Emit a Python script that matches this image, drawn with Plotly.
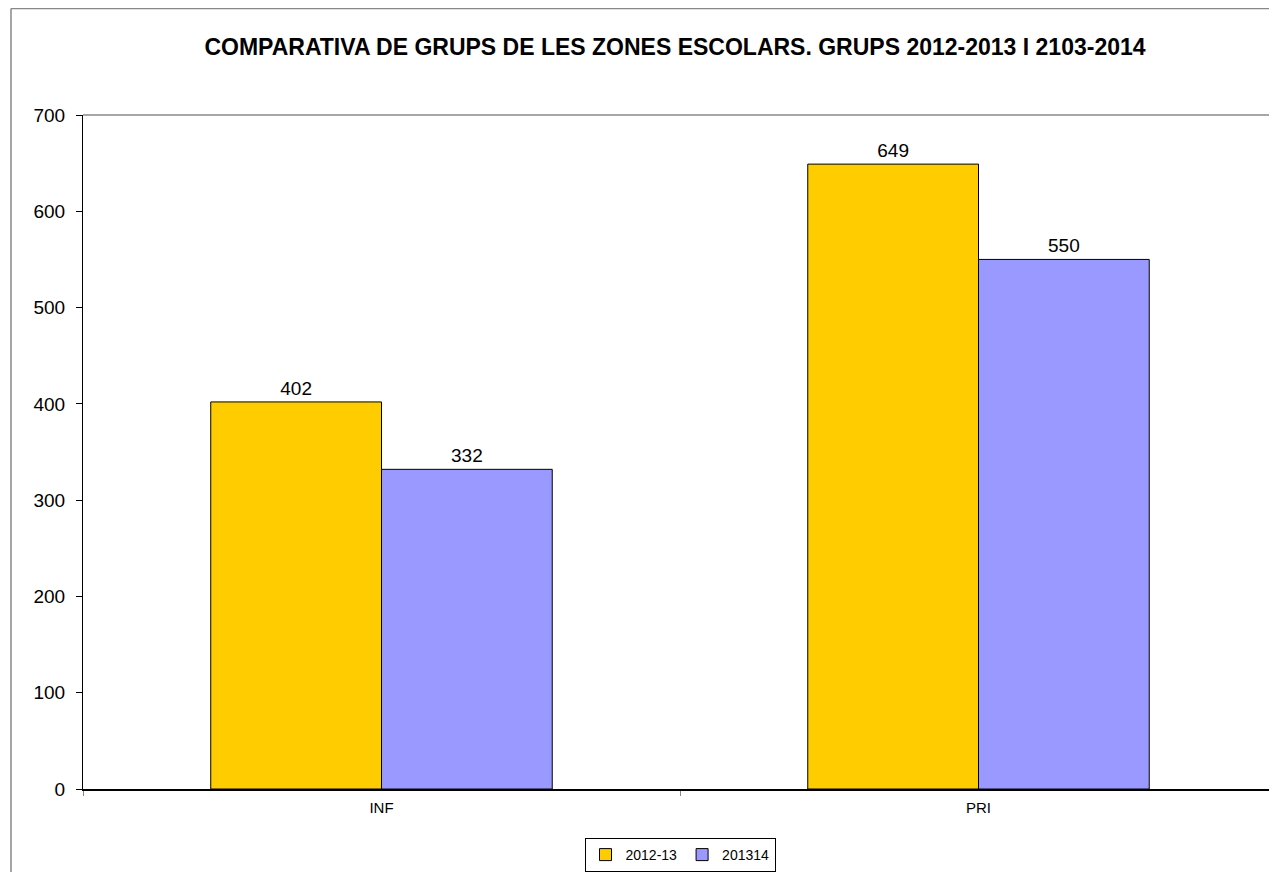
import plotly.graph_objects as go

categories = ['INF', 'PRI']
series_names = ['2012-13', '201314']
values_2012 = [402, 649]
values_2013 = [332, 550]
bar_colors = ['#FFCC00', '#9999FF']

# the page body has an 8px margin, so the figure is a bit smaller than the window
W, H = 1269, 864

fig = go.Figure()
for name, vals, col in zip(series_names, [values_2012, values_2013], bar_colors):
    fig.add_trace(go.Bar(
        x=categories, y=vals, name=name,
        marker=dict(color=col, line=dict(color='black', width=1)),
        text=[str(v) for v in vals], textposition='outside',
        textfont=dict(family='Liberation Sans, Arial', size=19, color='black'),
        cliponaxis=False,
    ))

# outer chart frame (gray), cut at the right and bottom like the original
fig.add_shape(type='line', xref='paper', yref='paper',
              x0=-0.0603, x1=-0.0603, y0=-0.13, y1=1.158,
              line=dict(color='#888888', width=1.5))
fig.add_shape(type='line', xref='paper', yref='paper',
              x0=-0.0603, x1=1.01, y0=1.158, y1=1.158,
              line=dict(color='#888888', width=1.5))
# top edge of the plot area
fig.add_shape(type='line', xref='paper', yref='paper',
              x0=0, x1=1.01, y0=1, y1=1,
              line=dict(color='#888888', width=1.5))

fig.update_layout(
    width=W, height=H,
    margin=dict(l=75, r=0, t=107, b=83),
    paper_bgcolor='white', plot_bgcolor='white',
    barmode='group', bargap=0.428, bargroupgap=0,
    font=dict(family='Liberation Sans, Arial', color='black'),
    title=dict(
        text='<b>COMPARATIVA DE GRUPS DE LES ZONES ESCOLARS. GRUPS 2012-2013 I 2103-2014</b>',
        x=0.5256, xref='container', xanchor='center',
        y=1 - 39 / H, yref='container', yanchor='middle',
        font=dict(size=23, family='Liberation Sans, Arial', color='black'),
    ),
    xaxis=dict(
        range=[-0.5, 1.5], showgrid=False,
        showline=True, linecolor='black', linewidth=2,
        ticks='outside', tickson='boundaries', ticklen=5, tickcolor='#888888',
        tickfont=dict(size=15), ticklabelstandoff=4,
    ),
    yaxis=dict(
        range=[0, 700], dtick=100, showgrid=False, zeroline=False,
        showline=True, linecolor='black', linewidth=1,
        ticks='outside', ticklen=6, tickcolor='black',
        tickfont=dict(size=19), ticklabelstandoff=7,
    ),
    legend=dict(
        orientation='h', x=0.5, xanchor='center', y=-0.0727, yanchor='top',
        bordercolor='black', borderwidth=1, bgcolor='white',
        font=dict(size=14), itemwidth=30, tracegroupgap=0,
    ),
)

fig.write_html('out.html')
